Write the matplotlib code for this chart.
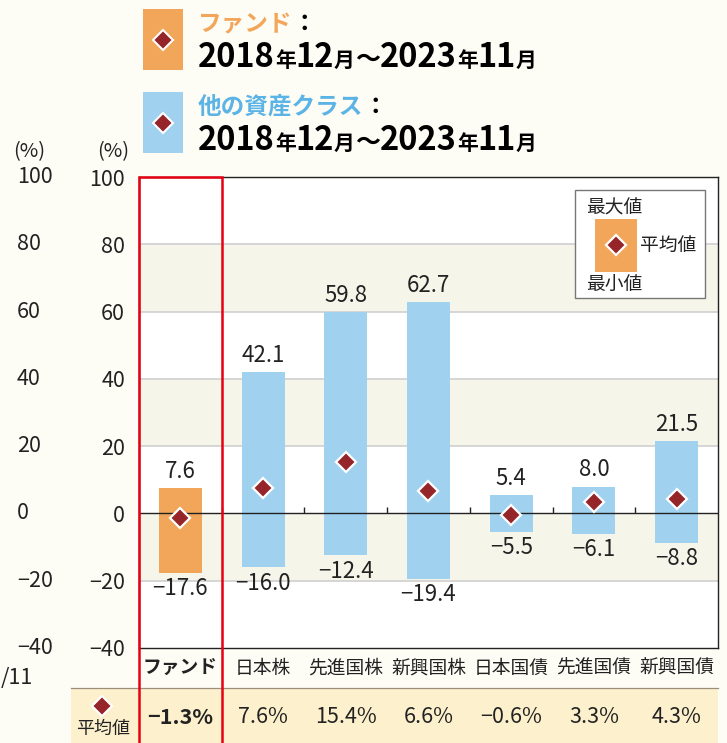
import numpy as np
import matplotlib.pyplot as plt
from matplotlib.patches import Rectangle
from matplotlib.transforms import blended_transform_factory

plt.rcParams['font.family'] = ['Noto Sans CJK JP', 'DejaVu Sans']

categories = ['ファンド', '日本株', '先進国株', '新興国株', '日本国債', '先進国債', '新興国債']
max_vals = [7.6, 42.1, 59.8, 62.7, 5.4, 8.0, 21.5]
min_vals = [-17.6, -16.0, -12.4, -19.4, -5.5, -6.1, -8.8]
avg_vals = [-1.3, 7.6, 15.4, 6.6, -0.6, 3.3, 4.3]
yticks = [100, 80, 60, 40, 20, 0, -20, -40]

W, H = 727, 743
bg = '#fdfcf5'
orange = '#f2a65a'
blue = '#a0d2f0'
dia = '#962529'
red = '#e60012'
band = '#f6f5ea'
ink = '#222222'


def fx(px):
    return px / W


def fy(py):
    return 1 - py / H


def fmt(v):
    return f'{v:.1f}'.replace('-', '−')


fig = plt.figure(figsize=(W / 100, H / 100), dpi=100, facecolor=bg)
ax = fig.add_axes([fx(139), fy(648), fx(718) - fx(139), (648 - 177) / H])
ax.set_facecolor('white')
ax.set_xlim(-0.5, len(categories) - 0.5)
ax.set_ylim(-40, 100)

# alternating bands and grid
for lo in range(-40, 100, 20):
    if ((lo + 40) // 20) % 2 == 1:
        ax.axhspan(lo, lo + 20, color=band, lw=0, zorder=0)
for g in [80, 60, 40, 20, -20]:
    ax.axhline(g, color='#cfcfcf', lw=1.2, zorder=1)
ax.axhline(0, color=ink, lw=1.0, zorder=3)
ax.vlines(np.arange(0.5, len(categories) - 1), 0, 1.9, color=ink, lw=1.0, zorder=3)

x = np.arange(len(categories))
colors = [orange] + [blue] * (len(categories) - 1)
ax.bar(x, np.array(max_vals) - np.array(min_vals), bottom=min_vals, width=0.52,
       color=colors, zorder=2)
ax.plot(x, avg_vals, ls='none', marker='D', ms=10.5, mfc=dia, mec='white', mew=1.6, zorder=4)

for i in range(len(categories)):
    ax.text(x[i], max_vals[i] + 1.5, fmt(max_vals[i]), ha='center', va='bottom',
            fontsize=16, color=ink)
    ax.text(x[i], min_vals[i] - 1.3, fmt(min_vals[i]), ha='center', va='top',
            fontsize=16, color=ink)

for s in ax.spines.values():
    s.set_color(ink)
    s.set_linewidth(1.0)

ax.set_yticks(yticks)
ax.set_yticklabels([str(t).replace('-', '−') for t in yticks], fontsize=15.5, color=ink)
ax.tick_params(axis='y', length=0, pad=10)
ax.set_xticks(x)
ax.set_xticklabels(categories, fontsize=13.5, color=ink)
ax.tick_params(axis='x', length=0, pad=7)
ax.get_xticklabels()[0].set_fontweight('bold')

# legend box inside plot
ax.add_patch(Rectangle((fx(575), fy(298)), fx(705) - fx(575), (298 - 190) / H,
                       transform=fig.transFigure, facecolor='white', edgecolor='#777777',
                       lw=1.0, zorder=5))
fig.patches.append(Rectangle((fx(595), fy(272)), fx(637) - fx(595), (272 - 219) / H,
                             transform=fig.transFigure, facecolor=orange, lw=0, zorder=6))
fig.add_artist(plt.Line2D([fx(616)], [fy(245)], ls='none', marker='D', ms=10.5, mfc=dia,
                          mec='white', mew=1.6, transform=fig.transFigure, zorder=7))
fig.text(fx(586), fy(208), '最大値', fontsize=13.5, va='center', ha='left', color=ink)
fig.text(fx(640), fy(245), '平均値', fontsize=13.5, va='center', ha='left', color=ink)
fig.text(fx(586), fy(285), '最小値', fontsize=13.5, va='center', ha='left', color=ink)

# mean row
fig.patches.append(Rectangle((fx(71), 0), fx(718) - fx(71), fy(688), transform=fig.transFigure,
                             facecolor='#fdf0cd', lw=0, zorder=0))
fig.add_artist(plt.Line2D([fx(71), fx(718)], [fy(688), fy(688)], color='#9a8f7a', lw=0.9,
                          transform=fig.transFigure))
bt = blended_transform_factory(ax.transData, fig.transFigure)
for i in range(len(categories)):
    fig.text(x[i], fy(717), fmt(avg_vals[i]) + '%', transform=bt, ha='center', va='center',
             fontsize=15.5, color=ink, fontweight='bold' if i == 0 else 'normal')
fig.add_artist(plt.Line2D([fx(102)], [fy(706)], ls='none', marker='D', ms=10, mfc=dia,
                          mec='white', mew=1.5, transform=fig.transFigure))
fig.text(fx(103), fy(729), '平均値', fontsize=13, ha='center', va='center', color=ink)

# red frame around fund column
fig.add_artist(Rectangle((-0.5, -0.01), 1.0, fy(177) + 0.01, transform=bt, fill=False,
                         edgecolor=red, lw=1.8, zorder=10))

# unit labels
fig.text(fx(113), fy(152), '(%)', fontsize=14.5, ha='center', va='center', color=ink)
fig.text(fx(29), fy(152), '(%)', fontsize=14.5, ha='center', va='center', color=ink)
# left axis of the neighbouring chart (cropped)
for t in yticks:
    fig.text(fx(17), ax.transData.transform((0, t))[1] / H, str(t).replace('-', '−'),
             fontsize=15.5, ha='left', va='center', color=ink)
fig.text(fx(1), fy(678), '/11', fontsize=15.5, ha='left', va='center', color=ink)

# header legend
renderer = fig.canvas.get_renderer()


def seg_text(x0, ybase, parts):
    xx = x0
    for s, size, color, weight in parts:
        t = fig.text(xx, ybase, s, fontsize=size, color=color, fontweight=weight,
                     ha='left', va='baseline')
        bb = t.get_window_extent(renderer)
        xx += bb.width / W


date_parts = [('2018', 23.5, 'black', 'bold'), ('年', 15, 'black', 'bold'),
              ('12', 23.5, 'black', 'bold'), ('月', 15, 'black', 'bold'),
              ('～', 18, 'black', 'bold'), ('2023', 23.5, 'black', 'bold'),
              ('年', 15, 'black', 'bold'), ('11', 23.5, 'black', 'bold'),
              ('月', 15, 'black', 'bold')]

fig.patches.append(Rectangle((fx(143), fy(70)), fx(183) - fx(143), 61 / H,
                             transform=fig.transFigure, facecolor=orange, lw=0))
fig.patches.append(Rectangle((fx(143), fy(153)), fx(183) - fx(143), 61 / H,
                             transform=fig.transFigure, facecolor=blue, lw=0))
for yc in [40, 123]:
    fig.add_artist(plt.Line2D([fx(163)], [fy(yc)], ls='none', marker='D', ms=10.5, mfc=dia,
                              mec='white', mew=1.5, transform=fig.transFigure))
seg_text(fx(198), fy(31), [('ファンド', 17, orange, 'bold'), ('：', 17, 'black', 'bold')])
seg_text(fx(198), fy(67), date_parts)
seg_text(fx(198), fy(114), [('他の資産クラス', 17, '#5bb4e5', 'bold'), ('：', 17, 'black', 'bold')])
seg_text(fx(198), fy(150), date_parts)

fig.savefig('out.png', dpi=100, facecolor=bg)
